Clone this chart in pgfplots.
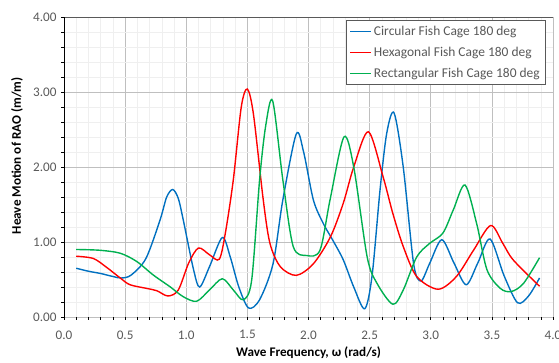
\documentclass[border=0pt]{standalone}
\usepackage{pgfplots}
\pgfplotsset{compat=1.18}
\usepackage{fontspec}
\setmainfont{Carlito}
\definecolor{cblue}{HTML}{0070C0}
\definecolor{cred}{HTML}{FF0000}
\definecolor{cgreen}{HTML}{00B050}
\definecolor{tickgray}{HTML}{595959}
\definecolor{majgrid}{HTML}{BFBFBF}
\definecolor{mingrid}{HTML}{EFEFEF}
\begin{document}
\begin{tikzpicture}
\begin{axis}[
  scale only axis,
  width=489bp, height=300bp,
  xmin=0, xmax=4, ymin=0, ymax=4,
  xtick={0,0.5,...,4.0},
  ytick={0,1,...,4},
  minor x tick num=4,
  minor y tick num=4,
  grid=both,
  major grid style={majgrid, line width=0.6pt},
  minor grid style={mingrid, line width=0.5pt},
  tick align=outside,
  tick style={black, line width=0.5pt},
  major tick length=3bp, minor tick length=3bp,
  xtick pos=bottom, ytick pos=left,
  axis line style={draw=none},
  /pgf/number format/assume math mode=true,
  xticklabel style={/pgf/number format/.cd, fixed, fixed zerofill, precision=1, /tikz/.cd, yshift=-7bp},
  yticklabel style={/pgf/number format/.cd, fixed, fixed zerofill, precision=2, /tikz/.cd, xshift=-1bp},
  ticklabel style={font=\fontsize{13.2}{15}\selectfont, text=tickgray},
  xlabel={\textbf{Wave Frequency, ω (rad/s)}},
  ylabel={\textbf{Heave Motion of RAO (m/m)}},
  label style={font=\fontsize{13.2}{15}\selectfont},
  xlabel style={at={(rel axis cs:0.5,-0.12)}, anchor=center},
  ylabel style={at={(rel axis cs:-0.096,0.537)}, anchor=center},
  legend style={at={(rel axis cs:0.9857,0.99)}, anchor=north east,
    draw=tickgray, line width=0.6pt, fill=white,
    font=\fontsize{13.5}{15}\selectfont, text=tickgray,
    row sep=6pt, inner xsep=4pt, inner ysep=4pt},
  legend cell align=left,
  legend image post style={xscale=1.24, line width=1.1pt},
]
\addplot[cblue, line width=1.4pt, smooth, tension=0.5] coordinates {
(0.10,0.65) (0.20,0.61) (0.30,0.58) (0.40,0.54) (0.47,0.52) (0.55,0.56)
(0.67,0.78) (0.785,1.29) (0.84,1.60) (0.89,1.70) (0.935,1.58) (0.976,1.29)
(1.06,0.63) (1.11,0.40) (1.19,0.67) (1.295,1.06) (1.36,0.80) (1.43,0.40)
(1.51,0.12) (1.60,0.23) (1.71,0.71) (1.79,1.56) (1.90,2.44) (1.96,2.20)
(2.04,1.56) (2.12,1.25) (2.20,1.02) (2.285,0.76) (2.37,0.40) (2.46,0.11)
(2.52,0.55) (2.585,1.69) (2.64,2.45) (2.70,2.72) (2.775,2.00) (2.86,0.71)
(2.92,0.48) (2.99,0.71) (3.09,1.03) (3.19,0.72) (3.29,0.43) (3.385,0.72)
(3.485,1.04) (3.60,0.55) (3.71,0.19) (3.80,0.28) (3.89,0.52)
};
\addlegendentry{Circular Fish Cage 180 deg}
\addplot[cred, line width=1.4pt, smooth, tension=0.5] coordinates {
(0.10,0.81) (0.24,0.78) (0.35,0.66) (0.46,0.52) (0.54,0.43) (0.68,0.38)
(0.76,0.35) (0.85,0.28) (0.935,0.36) (1.02,0.72) (1.10,0.92) (1.19,0.83)
(1.27,0.77) (1.32,1.12) (1.385,1.83) (1.45,2.80) (1.50,3.04) (1.55,2.70)
(1.63,1.56) (1.685,0.98) (1.77,0.67) (1.90,0.555) (2.04,0.71) (2.18,1.07)
(2.285,1.52) (2.37,2.00) (2.49,2.47) (2.61,1.87) (2.69,1.38) (2.775,0.94)
(2.885,0.54) (3.06,0.37) (3.21,0.54) (3.35,0.89) (3.49,1.22) (3.59,0.98)
(3.675,0.76) (3.89,0.41)
};
\addlegendentry{Hexagonal Fish Cage 180 deg}
\addplot[cgreen, line width=1.4pt, smooth, tension=0.5] coordinates {
(0.10,0.90) (0.29,0.89) (0.46,0.85) (0.595,0.74) (0.73,0.56) (0.87,0.40)
(0.976,0.27) (1.085,0.21) (1.19,0.36) (1.295,0.51) (1.385,0.36) (1.467,0.23)
(1.535,0.49) (1.60,1.83) (1.65,2.55) (1.707,2.88) (1.79,1.83) (1.875,0.94)
(1.985,0.82) (2.094,0.89) (2.176,1.56) (2.29,2.40) (2.37,2.00) (2.48,0.80)
(2.56,0.45) (2.69,0.17) (2.775,0.36) (2.885,0.80) (2.99,0.98) (3.10,1.12)
(3.185,1.43) (3.28,1.76) (3.375,1.25) (3.46,0.63) (3.57,0.38) (3.66,0.34)
(3.76,0.45) (3.89,0.79)
};
\addlegendentry{Rectangular Fish Cage 180 deg}
\draw[tickgray, line width=0.8pt] (rel axis cs:0,1) -- (rel axis cs:1,1) -- (rel axis cs:1,0);
\draw[black, line width=0.8pt] (rel axis cs:0,1) -- (rel axis cs:0,0) -- (rel axis cs:1,0);
\coordinate (BL) at (rel axis cs:-0.1309,-0.1533);
\coordinate (TR) at (rel axis cs:1.0123,1.0567);
\end{axis}
\pgfresetboundingbox
\path[use as bounding box] (BL) rectangle (TR);
\end{tikzpicture}
\end{document}
